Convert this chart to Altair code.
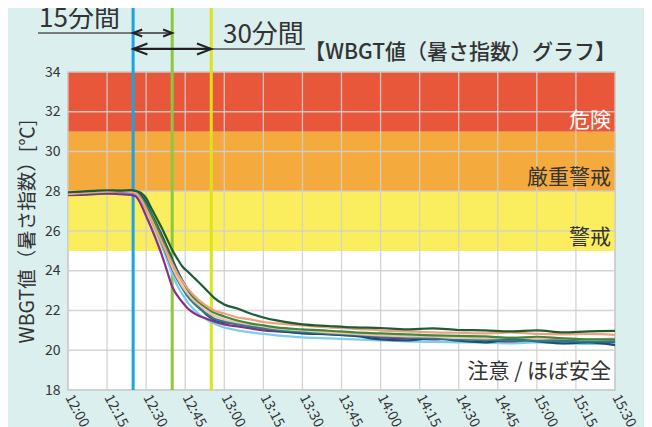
import json
import altair as alt
import pandas as pd

FONT = "Noto Sans CJK JP"

# ---- data ----
minutes = [0, 5, 10, 15, 20, 24, 26, 28, 30, 32, 34, 36, 38, 40, 42, 44, 46, 48, 50, 53, 56,
           60, 65, 70, 75, 80, 90, 100, 110, 120, 130, 140, 150, 160, 170, 180, 190, 200, 210]

tick_minutes = [0, 15, 30, 45, 60, 75, 90, 105, 120, 135, 150, 165, 180, 195, 210]
tick_labels = ["12:00", "12:15", "12:30", "12:45", "13:00", "13:15", "13:30", "13:45",
               "14:00", "14:15", "14:30", "14:45", "15:00", "15:15", "15:30"]
y_ticks = [18, 20, 22, 24, 26, 28, 30, 32, 34]

series_names = ["s6", "s5", "s4", "s8", "s7", "s3", "s2", "s1"]
series_colors = ["#7ccdee", "#8c2d8c", "#1e4e6c", "#2a7f8c", "#f6bea6", "#3d8a3d", "#f0a07c", "#1d5c35"]

s1 = [27.95, 27.98, 28.02, 28.05, 28.03, 28.06, 28.02, 27.92, 27.65, 27.15, 26.65, 26.15, 25.6, 25.05,
      24.6, 24.2, 23.95, 23.7, 23.45, 23.05, 22.65, 22.3, 22.1, 21.85, 21.65, 21.5, 21.3, 21.22, 21.15,
      21.12, 21.05, 21.1, 21.02, 21.0, 20.95, 21.0, 20.9, 20.95, 20.97]
s2 = [27.85, 27.9, 27.95, 27.98, 28.0, 27.97, 27.9, 27.6, 27.1, 26.55, 26.0, 25.45, 24.9, 24.35,
      23.85, 23.45, 23.1, 22.8, 22.55, 22.25, 22.0, 21.85, 21.65, 21.55, 21.42, 21.35, 21.25, 21.15,
      21.08, 21.0, 20.95, 20.9, 20.88, 20.85, 20.9, 20.82, 20.8, 20.82, 20.77]
s3 = [27.9, 27.92, 27.95, 28.0, 28.02, 28.0, 27.95, 27.7, 27.3, 26.8, 26.25, 25.65, 25.05, 24.45,
      23.9, 23.45, 23.05, 22.7, 22.45, 22.15, 21.9, 21.7, 21.5, 21.35, 21.25, 21.15, 21.05, 20.98,
      20.9, 20.85, 20.8, 20.75, 20.72, 20.7, 20.62, 20.68, 20.6, 20.55, 20.55]
s4 = [27.85, 27.88, 27.9, 27.95, 27.97, 28.0, 27.98, 27.8, 27.45, 26.9, 26.35, 25.8, 25.2, 24.6,
      24.0, 23.5, 23.05, 22.6, 22.25, 21.8, 21.55, 21.4, 21.35, 21.2, 21.1, 21.0, 20.85, 20.8,
      20.72, 20.55, 20.5, 20.6, 20.48, 20.4, 20.55, 20.45, 20.35, 20.4, 20.26]
s5 = [27.8, 27.82, 27.85, 27.88, 27.85, 27.82, 27.75, 27.35, 26.75, 26.15, 25.5, 24.8, 24.0, 23.2,
      22.75, 22.4, 22.1, 21.9, 21.75, 21.6, 21.45, 21.3, 21.2, 21.1, 21.0, 20.95, 20.88, 20.82,
      20.75, 20.65, 20.6, 20.55, 20.6, 20.5, 20.45, 20.55, 20.48, 20.42, 20.42]
s6 = [27.9, 27.85, 27.88, 27.9, 27.92, 27.9, 27.85, 27.55, 27.05, 26.5, 25.9, 25.25, 24.55, 23.85,
      23.25, 22.8, 22.4, 22.1, 21.85, 21.55, 21.35, 21.15, 21.0, 20.9, 20.82, 20.75, 20.65, 20.6,
      20.55, 20.5, 20.45, 20.42, 20.4, 20.38, 20.35, 20.4, 20.35, 20.32, 20.35]
s7 = [27.95, 27.92, 27.98, 28.02, 28.0, 28.02, 27.95, 27.65, 27.2, 26.65, 26.1, 25.5, 24.85, 24.2,
      23.65, 23.2, 22.85, 22.55, 22.3, 22.0, 21.75, 21.55, 21.4, 21.3, 21.2, 21.1, 21.0, 20.9,
      20.82, 20.75, 20.7, 20.68, 20.62, 20.6, 20.65, 20.58, 20.6, 20.55, 20.6]
s8 = [27.88, 27.9, 27.92, 27.96, 27.98, 27.95, 27.9, 27.6, 27.15, 26.6, 26.05, 25.4, 24.75, 24.1,
      23.55, 23.1, 22.7, 22.4, 22.15, 21.85, 21.6, 21.45, 21.3, 21.2, 21.1, 21.02, 20.92, 20.85,
      20.78, 20.7, 20.65, 20.6, 20.55, 20.52, 20.5, 20.48, 20.45, 20.44, 20.45]
series_values = {"s1": s1, "s2": s2, "s3": s3, "s4": s4, "s5": s5, "s6": s6, "s7": s7, "s8": s8}

band_lo = [31, 28, 25]
band_hi = [34, 31, 28]
band_colors = ["#e9573a", "#f5aa3e", "#faee5e"]

band_labels = ["危険", "厳重警戒", "警戒", "注意 / ほぼ安全"]
band_label_y = [31.55, 28.67, 25.67, 18.9]
band_label_colors = ["#ffffff", "#333333", "#333333", "#333333"]

marker_minutes = [25, 40, 55]
marker_colors = ["#1ba3e3", "#8dc63f", "#dde21b"]

# ---- tables ----
rows = []
for name in series_names:
    vals = series_values[name]
    if len(vals) != len(minutes):
        raise ValueError(name + " length " + str(len(vals)))
    for m, v in zip(minutes, vals):
        rows.append({"minute": m, "wbgt": v, "series": name})
lines_df = pd.DataFrame(rows)

bands_df = pd.DataFrame({"x0": [0] * 3, "x1": [210] * 3, "lo": band_lo, "hi": band_hi, "c": band_colors})
vgrid_df = pd.DataFrame({"m": tick_minutes})
hgrid_df = pd.DataFrame({"v": y_ticks})
markers_df = pd.DataFrame({"m": marker_minutes, "y0": [18] * 3, "y1": [38] * 3, "c": marker_colors})
labels_df = pd.DataFrame({"x": [208.5] * 4, "y": band_label_y, "t": band_labels, "c": band_label_colors})

xs = alt.Scale(domain=[0, 210], nice=False, zero=False)
ys = alt.Scale(domain=[18, 34], nice=False, zero=False)
label_expr = json.dumps(tick_labels) + "[round(datum.value / 15)]"
xaxis = alt.Axis(values=tick_minutes, labelExpr=label_expr, grid=False, ticks=False, domain=False,
                 labelAngle=62, labelAlign="left", labelBaseline="middle", labelPadding=5,
                 labelFontSize=14, labelColor="#333333", labelFont=FONT, title=None)
yaxis = alt.Axis(values=y_ticks, grid=False, ticks=False, domain=False, labelPadding=8,
                 labelFontSize=14, labelColor="#333333", labelFont=FONT,
                 title="WBGT値（暑さ指数）[℃]", titleFontSize=19.5, titleFontWeight="normal",
                 titleColor="#333333", titleFont=FONT, titlePadding=7)


def X(f):
    return alt.X(f, type="quantitative", scale=xs, axis=xaxis)


def Y(f):
    return alt.Y(f, type="quantitative", scale=ys, axis=yaxis)


bands = alt.Chart(bands_df).mark_rect().encode(
    x=X("x0"), x2="x1", y=Y("lo"), y2="hi", color=alt.Color("c:N", scale=None))

vgrid = alt.Chart(vgrid_df).mark_rule(color="#cfcfcf", strokeWidth=1.3, opacity=0.9).encode(
    x=X("m"), y=alt.datum(18, scale=ys, axis=yaxis), y2=alt.datum(34))
hgrid = alt.Chart(hgrid_df).mark_rule(color="#cfcfcf", strokeWidth=1.3, opacity=0.9).encode(
    y=Y("v"), x=alt.datum(0, scale=xs, axis=xaxis), x2=alt.datum(210))

markers = alt.Chart(markers_df).mark_rule(strokeWidth=3).encode(
    x=X("m"), y=Y("y0"), y2="y1", color=alt.Color("c:N", scale=None))

lines = alt.Chart(lines_df).mark_line(strokeWidth=2.2, interpolate="monotone").encode(
    x=X("minute"), y=Y("wbgt"),
    color=alt.Color("series:N", scale=alt.Scale(domain=series_names, range=series_colors), legend=None))

band_text = alt.Chart(labels_df).mark_text(align="right", baseline="middle", fontSize=21, font=FONT).encode(
    x=X("x"), y=Y("y"), text="t:N", color=alt.Color("c:N", scale=None))

# ---- header annotations (data coordinates above the plot) ----
ann_lines_df = pd.DataFrame({
    "x0": [-11.5, 25, 25, 55],
    "x1": [25, 40, 55, 91],
    "y": [35.96, 35.96, 35.16, 35.16],
    "w": [1.6, 1.6, 2.2, 1.6],
    "c": ["#555555", "#333333", "#222222", "#555555"],
})
ann_lines = alt.Chart(ann_lines_df).mark_rule().encode(
    x=X("x0"), x2="x1", y=Y("y"), strokeWidth=alt.StrokeWidth("w:Q", scale=None),
    color=alt.Color("c:N", scale=None))

heads_left_df = pd.DataFrame({"x": [25, 25], "y": [35.96, 35.16], "s": [49, 121]})
heads_right_df = pd.DataFrame({"x": [40, 55], "y": [35.96, 35.16], "s": [49, 121]})
heads_left = alt.Chart(heads_left_df).mark_point(
    shape="M 2.6 -1 L 0 0 L 2.6 1", filled=False, color="#222222", strokeWidth=2, opacity=1).encode(
    x=X("x"), y=Y("y"), size=alt.Size("s:Q", scale=None))
heads_right = alt.Chart(heads_right_df).mark_point(
    shape="M -2.6 -1 L 0 0 L -2.6 1", filled=False, color="#222222", strokeWidth=2, opacity=1).encode(
    x=X("x"), y=Y("y"), size=alt.Size("s:Q", scale=None))

hdr_df = pd.DataFrame({"x": [-11.1, 59.5], "y": [36.26, 35.46], "t": ["15分間", "30分間"]})
hdr_text = alt.Chart(hdr_df).mark_text(align="left", baseline="alphabetic", fontSize=26, font=FONT,
                                       color="#333333").encode(x=X("x"), y=Y("y"), text="t:N")

title_df = pd.DataFrame({"x": [210.4], "y": [34.96], "t": ["【WBGT値（暑さ指数）グラフ】"]})
title_text = alt.Chart(title_df).mark_text(align="right", baseline="middle", fontSize=21, font=FONT,
                                           fontWeight=500, color="#333333").encode(
    x=X("x"), y=Y("y"), text="t:N")

chart = alt.layer(
    bands, vgrid, hgrid, markers, lines, band_text, ann_lines, heads_left, heads_right, hdr_text, title_text
).properties(
    width=547, height=318,
    autosize=alt.AutoSizeParams(type="none"),
    padding={"left": 60, "top": 64, "right": 29, "bottom": 37},
).configure(
    background="#dcefef", font=FONT
).configure_view(
    fill="white", stroke="#c8c8c8", strokeWidth=1.5
)

chart.save("out.html", embed_options={"renderer": "svg", "actions": False})
